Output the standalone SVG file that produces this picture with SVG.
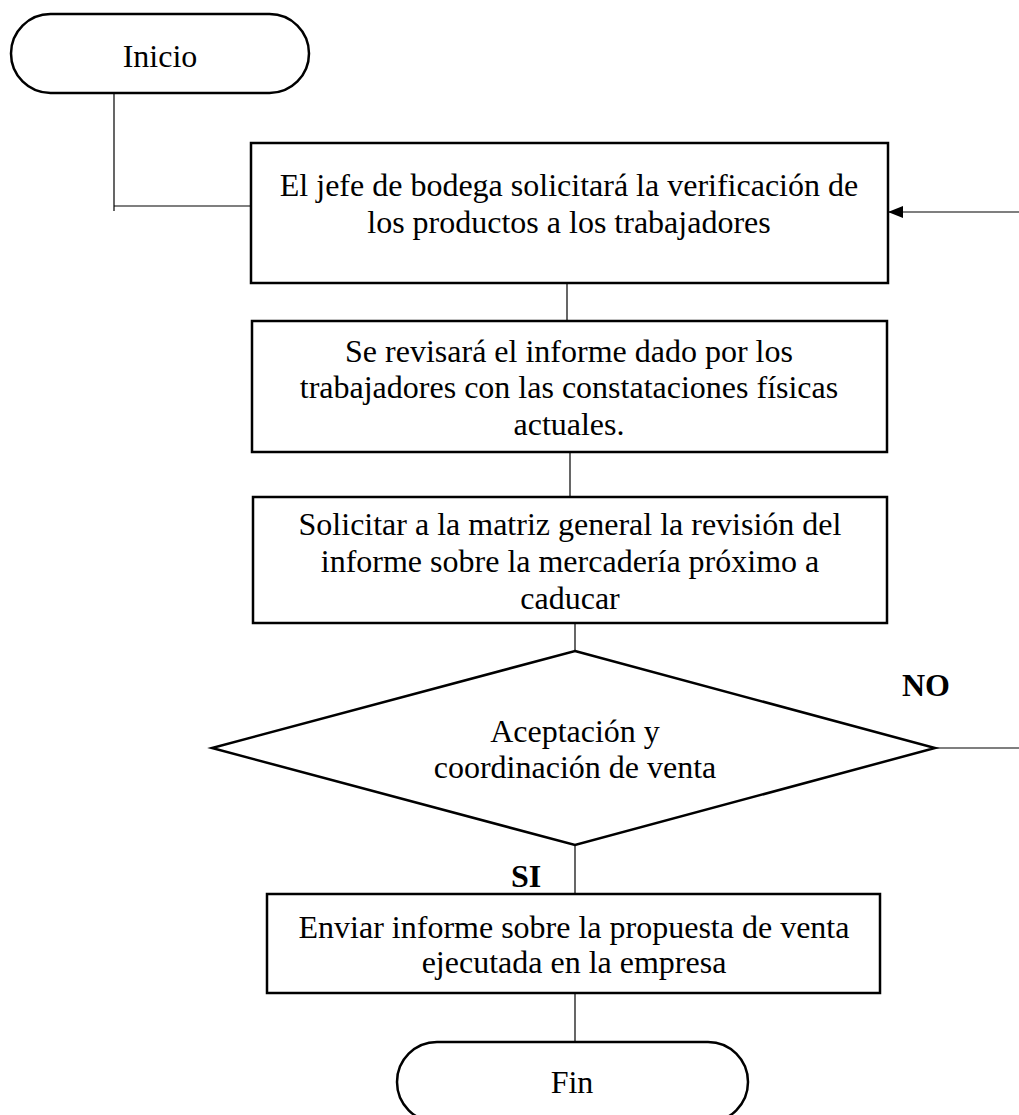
<svg xmlns="http://www.w3.org/2000/svg" width="1019" height="1115" viewBox="0 0 1019 1115">
<defs>
<style>
.shape{fill:#fff;stroke:#000;stroke-width:2.5}
.conn{fill:none;stroke:#000;stroke-width:1.2}
.t{font-family:"Liberation Serif","Times New Roman",serif;font-size:32px;fill:#000;text-anchor:middle}
.b{font-family:"Liberation Serif","Times New Roman",serif;font-size:32px;font-weight:bold;fill:#000;text-anchor:middle}
</style>
<marker id="arr" markerWidth="15" markerHeight="12" refX="14" refY="6" orient="auto" markerUnits="userSpaceOnUse">
<path d="M0,0 L15,6 L0,12 Z" fill="#000"/>
</marker>
</defs>
<rect width="1019" height="1115" fill="#fff"/>
<g id="connectors">
<path class="conn" d="M114,93 V211"/>
<path class="conn" d="M114,206 H251"/>
<path class="conn" d="M567,283 V321"/>
<path class="conn" d="M570,452 V497"/>
<path class="conn" d="M575,623 V651"/>
<path class="conn" d="M935,748 H1019"/>
<path class="conn" d="M1019,212 H889" marker-end="url(#arr)"/>
<path class="conn" d="M575,845 V894"/>
<path class="conn" d="M575,993 V1042"/>
</g>
<g id="inicio">
<rect class="shape" x="11" y="14" width="298" height="79" rx="39.5" ry="39.5"/>
<text class="t" x="160" y="67">Inicio</text>
</g>
<g id="box1">
<rect class="shape" x="251" y="143" width="637" height="140"/>
<text class="t" x="569" y="196">El jefe de bodega solicitará la verificación de</text>
<text class="t" x="569" y="233">los productos a los trabajadores</text>
</g>
<g id="box2">
<rect class="shape" x="252" y="321" width="635" height="131"/>
<text class="t" x="569" y="362">Se revisará el informe dado por los</text>
<text class="t" x="569" y="398">trabajadores con las constataciones físicas</text>
<text class="t" x="569" y="435">actuales.</text>
</g>
<g id="box3">
<rect class="shape" x="253" y="497" width="634" height="126"/>
<text class="t" x="570" y="535">Solicitar a la matriz general la revisión del</text>
<text class="t" x="570" y="572">informe sobre la mercadería próximo a</text>
<text class="t" x="570" y="609">caducar</text>
</g>
<g id="decision">
<polygon class="shape" points="575,651 935,748 575,845 212,748"/>
<text class="t" x="575" y="742">Aceptación y</text>
<text class="t" x="575" y="778">coordinación de venta</text>
</g>
<g id="labels">
<text class="b" x="926" y="696">NO</text>
<text class="b" x="526" y="887">SI</text>
</g>
<g id="box4">
<rect class="shape" x="267" y="894" width="613" height="99"/>
<text class="t" x="574" y="938">Enviar informe sobre la propuesta de venta</text>
<text class="t" x="574" y="973">ejecutada en la empresa</text>
</g>
<g id="fin">
<rect class="shape" x="397" y="1042" width="351" height="80" rx="40" ry="40"/>
<text class="t" x="572" y="1093">Fin</text>
</g>
</svg>
